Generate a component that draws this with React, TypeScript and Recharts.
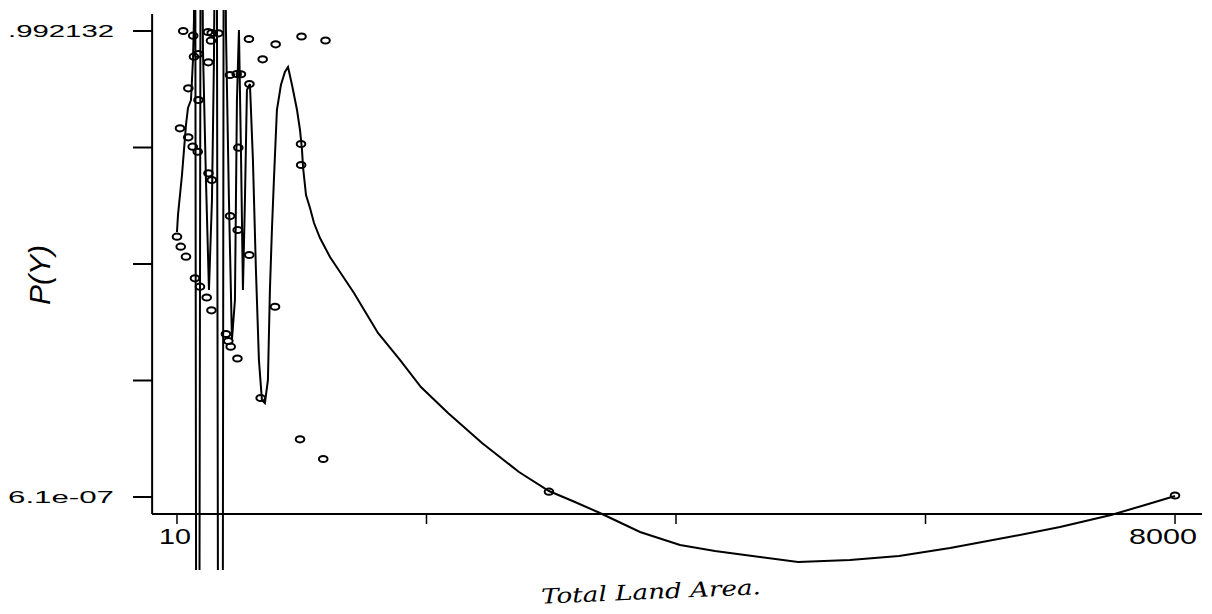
import { ComposedChart, Line, Scatter, XAxis, YAxis, ReferenceLine } from 'recharts';

// observed points (Total Land Area, P(Y))
const scatterX = [10, 40, 82, 34, 100, 136, 176, 60, 140, 258, 288, 341, 282, 146, 181, 261, 101, 182, 262, 289, 434, 488, 522, 501, 435, 496, 589, 154, 194, 248, 286, 402, 421, 440, 494, 795, 680, 995, 1181, 586, 590, 696, 800, 1007, 1199, 1003, 1004, 2988, 8000];
const scatterY = [0.5542, 0.5329, 0.5116, 0.785, 0.7658, 0.7458, 0.7351, 0.992132, 0.9821, 0.99, 0.9879, 0.9872, 0.9715, 0.9374, 0.9431, 0.9255, 0.8701, 0.8452, 0.6892, 0.6749, 0.8984, 0.9006, 0.9, 0.7437, 0.5982, 0.5684, 0.5152, 0.4656, 0.4477, 0.4247, 0.3975, 0.347, 0.3321, 0.32, 0.2949, 0.4051, 0.2108, 0.1228, 0.0809, 0.9751, 0.8793, 0.9319, 0.9638, 0.9804, 0.9719, 0.7515, 0.7068, 0.0113, 0.0032];

// fitted values, sorted by x
const fitX = [10, 18, 34, 50, 66, 82, 98, 122, 138, 146, 154, 166, 186, 202, 218, 242, 266, 290, 306, 326, 342, 374, 386, 402, 426, 450, 474, 490, 506, 522, 538, 554, 570, 594, 618, 642, 666, 690, 714, 738, 754, 770, 786, 810, 842, 874, 899, 931, 971, 995, 1011, 1019, 1043, 1075, 1107, 1155, 1235, 1331, 1427, 1523, 1619, 1795, 1963, 2180, 2452, 2748, 2988, 3196, 3396, 3717, 4037, 4317, 4677, 4982, 5398, 5790, 6199, 6671, 7079, 7488, 7760, 8000];
const fitY = [0.5642, 0.6004, 0.643, 0.6855, 0.7388, 0.792, 0.8282, 0.8452, 0.9304, 1.0155, 1.697, -0.858, -0.858, 1.697, 0.9517, 0.6749, 0.4407, 0.6323, 0.9304, 1.697, -0.858, -0.858, 1.697, 0.9942, 0.6323, 0.3343, 0.4194, 0.8452, 0.9942, 0.7388, 0.4407, 0.6323, 0.8665, 0.8793, 0.7175, 0.4833, 0.2917, 0.2065, 0.2001, 0.2491, 0.4407, 0.5684, 0.6749, 0.8239, 0.8771, 0.9048, 0.9155, 0.8771, 0.8239, 0.7813, 0.7388, 0.7026, 0.643, 0.6153, 0.5833, 0.5514, 0.511, 0.4726, 0.4343, 0.3917, 0.3492, 0.2917, 0.2342, 0.1788, 0.115, 0.0532, 0.0128, -0.0106, -0.0341, -0.0745, -0.1022, -0.115, -0.1277, -0.1384, -0.1341, -0.1256, -0.1086, -0.0852, -0.0639, -0.0383, -0.017, 0.0021];

const xTicks = [10, 2007.5, 4005, 6002.5, 8000];
const xTickLabels = ['10', '', '', '', '8000'];
const yTicks = [6.1e-7, 0.248033, 0.496066, 0.744099, 0.992132];
const yTickLabels = ['6.1e-07', '', '', '', '.992132'];

const points = scatterX.map((x, i) => ({ x, y: scatterY[i] }));
const fit = fitX.map((x, i) => ({ x, y: fitY[i] }));

const FONT = '"Liberation Sans", Arial, sans-serif';
const AXIS_Y = -0.0362; // where the x axis line sits
const TICK_END = -0.0575;
const LEFT_X = -189;

const Ring = (props: any) => (
  <ellipse cx={props.cx} cy={props.cy} rx={4.3} ry={3.1} fill="none" stroke="#000" strokeWidth={2} />
);

const YTick = (props: any) => {
  const { x, y, payload } = props;
  const i = yTicks.indexOf(payload.value);
  const text = yTickLabels[i] || '';
  if (!text) return null;
  return (
    <text x={x - 70} y={y} dy={6} textAnchor="middle" fontSize={17} fontFamily={FONT} fill="#000"
      textLength={106} lengthAdjust="spacingAndGlyphs">
      {text}
    </text>
  );
};

const XTickLabel = (props: any) => {
  const { viewBox, text, shift, len } = props;
  if (!viewBox || !text) return null;
  return (
    <text x={viewBox.x + shift} y={viewBox.y + viewBox.height + 20} textAnchor="middle" fontSize={22}
      fontFamily={FONT} fill="#000" textLength={len} lengthAdjust="spacingAndGlyphs">
      {text}
    </text>
  );
};

const YTitle = (props: any) => {
  const { viewBox } = props;
  if (!viewBox) return null;
  const cx = viewBox.x - 112;
  const cy = viewBox.y + 261;
  return (
    <text x={cx} y={cy} dy={10} transform={`rotate(-90, ${cx}, ${cy})`} textAnchor="middle" fontSize={30}
      fontStyle="italic" fontFamily={FONT} fill="#000">
      P(Y)
    </text>
  );
};

const XTitle = (props: any) => {
  const { viewBox } = props;
  if (!viewBox) return null;
  const cx = viewBox.x + 499;
  const cy = viewBox.y + 78;
  return (
    <text x={cx} y={cy} dy={7} transform={`rotate(-2.5, ${cx}, ${cy})`} textAnchor="middle" fontSize={21}
      fontStyle="italic" fontFamily='"DejaVu Serif", serif' fill="#000" textLength={220} lengthAdjust="spacingAndGlyphs">
      Total Land Area.
    </text>
  );
};

export default function App() {
  return (
    <div style={{ position: 'absolute', left: 0, top: 0, width: 1212, height: 614, background: '#fff' }}>
      <ComposedChart width={1212} height={614} margin={{ top: 10, right: 7, bottom: 44, left: 12 }}>
        <XAxis type="number" dataKey="x" domain={[-190, 8240]} allowDataOverflow hide />
        <YAxis
          type="number"
          domain={[-0.15542, 1.03684]}
          allowDataOverflow
          width={140}
          ticks={yTicks}
          interval={0}
          axisLine={false}
          tickSize={19}
          tickLine={{ stroke: '#000', strokeWidth: 2 }}
          tick={<YTick />}
        />
        <ReferenceLine
          segment={[{ x: LEFT_X, y: 1.0283 }, { x: LEFT_X, y: AXIS_Y }]}
          stroke="#000"
          strokeWidth={2}
          ifOverflow="visible"
          label={<YTitle />}
        />
        <ReferenceLine
          segment={[{ x: -190, y: AXIS_Y }, { x: 8216, y: AXIS_Y }]}
          stroke="#000"
          strokeWidth={2}
          ifOverflow="visible"
          label={<XTitle />}
        />
        {xTicks.map((t, i) => (
          <ReferenceLine
            key={t}
            segment={[{ x: t, y: AXIS_Y }, { x: t, y: TICK_END }]}
            stroke="#000"
            strokeWidth={1.5}
            ifOverflow="visible"
            label={<XTickLabel text={xTickLabels[i]} shift={i === 0 ? -2 : -12} len={i === 0 ? 32 : 68} />}
          />
        ))}
        <Line data={fit} dataKey="y" type="linear" stroke="#000" strokeWidth={2} dot={false}
          activeDot={false} isAnimationActive={false} />
        <Scatter data={points} dataKey="y" shape={Ring} isAnimationActive={false} />
      </ComposedChart>
    </div>
  );
}
